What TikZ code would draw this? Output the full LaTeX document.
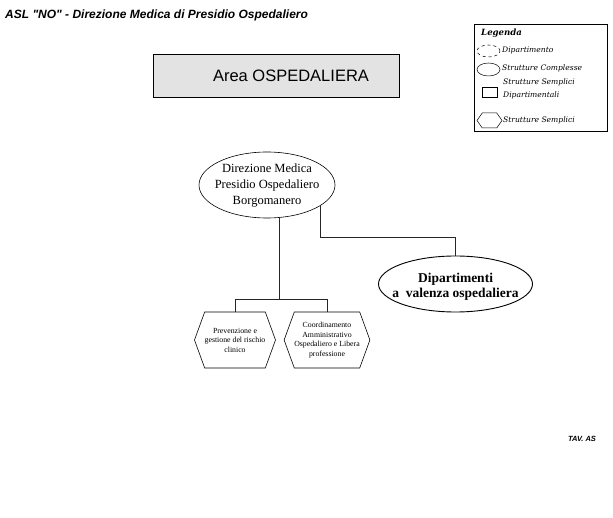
\documentclass[tikz,border=0pt]{standalone}
\usepackage{fontspec}
\setmainfont{Liberation Serif}
\setsansfont{Liberation Sans}
\newfontfamily\headfont{Liberation Sans}[Ligatures=TeXOff]
\newfontfamily\legendfont{DejaVu Serif}
\usetikzlibrary{shapes.geometric,shapes.symbols}

\tikzset{
  conn/.style={draw=black!85, line width=0.5pt},
  unitbox/.style={ellipse, draw, line width=0.6pt, inner sep=0pt},
  unittext/.style={inner sep=0pt, align=center},
  hexbox/.style={signal, signal to=west and east, signal pointer angle=140,
    draw, line width=0.6pt, minimum width=80pt, minimum height=56pt,
    inner sep=0pt, align=center, font=\rmfamily\fontsize{7.8}{9.5}\selectfont},
  legtext/.style={anchor=west, inner sep=0pt, font=\legendfont\itshape\fontsize{7.6}{10}\selectfont},
}

\begin{document}
\begin{tikzpicture}[x=1pt, y=-1pt]
\useasboundingbox (0,0) rectangle (613,518);

% heading
\node[anchor=west, inner sep=0pt, font=\headfont\bfseries\itshape\fontsize{12}{14}\selectfont]
  (title) at (5,15) {ASL "NO" - Direzione Medica di Presidio Ospedaliero};

% area banner
\node[draw, line width=0.7pt, fill=gray!22, minimum width=246pt, minimum height=43pt,
  inner sep=0pt] (area) at (276.5,76) {};
\node[inner sep=0pt, font=\sffamily\fontsize{16.5}{18}\selectfont] (arealabel) at (291,75.5) {Area OSPEDALIERA};

% legend
\node[draw, line width=0.5pt, minimum width=133pt, minimum height=107pt, inner sep=0pt] (legend) at (541,78) {};
\node[anchor=west, inner sep=0pt, font=\legendfont\bfseries\itshape\fontsize{8.6}{11}\selectfont] (legtitle) at (481,33) {Legenda};
\node[ellipse, draw, dashed, line width=0.5pt, minimum width=23pt, minimum height=12pt, inner sep=0pt] (lg1) at (488.5,51) {};
\node[legtext] (lt1) at (502,50) {Dipartimento};
\node[ellipse, draw, line width=0.5pt, minimum width=23pt, minimum height=13pt, inner sep=0pt] (lg2) at (488.5,69.5) {};
\node[legtext] (lt2) at (502,68) {Strutture Complesse};
\node[draw, line width=0.5pt, minimum width=15pt, minimum height=10pt, inner sep=0pt] (lg3) at (489.5,92) {};
\node[legtext] (lt3) at (503,82) {Strutture Semplici};
\node[legtext] (lt4) at (503,95) {Dipartimentali};
\node[signal, signal to=west and east, signal pointer angle=110, draw, line width=0.5pt,
  minimum width=25pt, minimum height=15pt, inner sep=0pt] (lg4) at (489.5,120.5) {};
\node[legtext] (lt5) at (503,120) {Strutture Semplici};

% organisation chart
\node[unitbox, minimum width=136pt, minimum height=66pt] (dir) at (267,185) {};
\node[unittext, font=\rmfamily\fontsize{12.5}{16}\selectfont] (dirtext) at (267,186)
  {Direzione Medica\\Presidio Ospedaliero\\Borgomanero};
\node[unitbox, line width=0.9pt, minimum width=154pt, minimum height=56pt] (dept) at (455.5,284) {};
\node[unittext, font=\rmfamily\bfseries\fontsize{13.5}{15.5}\selectfont] (depttext) at (455.5,287)
  {Dipartimenti\\a\ \ valenza ospedaliera};
\node[hexbox] (h1) at (235,340) {Prevenzione e\\gestione del rischio\\clinico};
\node[hexbox] (h2) at (327,340) {Coordinamento\\Amministrativo\\Ospedaliero e Libera\\professione};

\coordinate (jd) at (451,237);
\coordinate (js) at (279,299);

\draw[conn] (dir.-21) |- (dept.north |- jd) -- (dept.north);
\draw[conn] (dir.-70) -- (dir.-70 |- js);
\draw[conn] (h1.north) |- (h2.north |- js) -- (h2.north);

% sheet reference
\node[anchor=west, inner sep=0pt, font=\headfont\bfseries\itshape\fontsize{7.5}{9}\selectfont]
  (tav) at (568,439) {TAV. AS};
\end{tikzpicture}
\end{document}
